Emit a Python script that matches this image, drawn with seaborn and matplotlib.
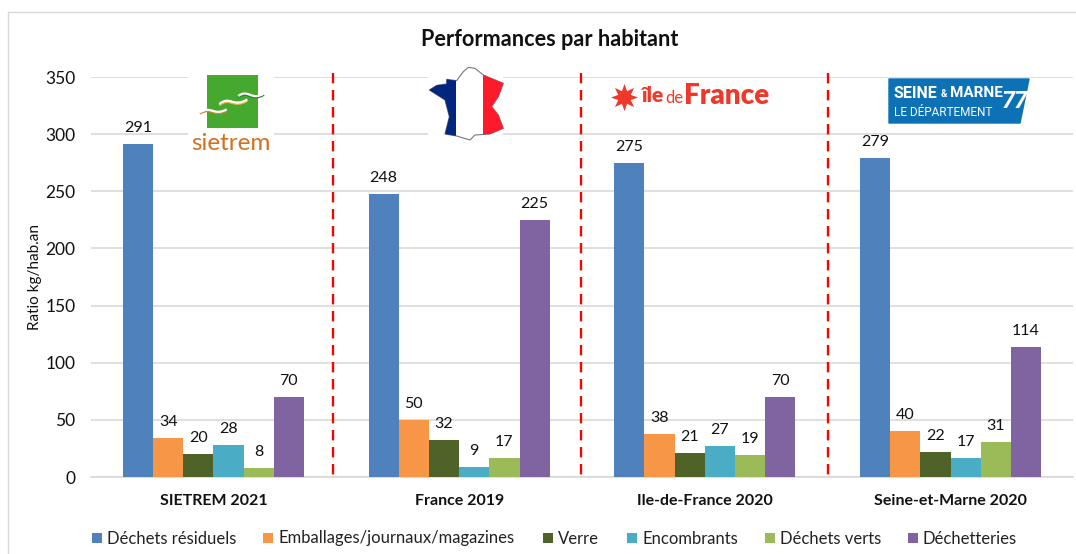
import pandas as pd
import matplotlib
matplotlib.use("Agg")
import matplotlib.pyplot as plt
import seaborn as sns
from matplotlib.patches import Polygon, Rectangle, PathPatch
from matplotlib.path import Path

W, H = 1076, 554

zones = ["SIETREM 2021", "France 2019", "Ile-de-France 2020", "Seine-et-Marne 2020"]
flux = ["Déchets résiduels", "Emballages/journaux/magazines", "Verre",
        "Encombrants", "Déchets verts", "Déchetteries"]
couleurs = ["#4f81bd", "#f79646", "#4f6228", "#4bacc6", "#9bbb59", "#8064a2"]

residuels = [291, 248, 275, 279]
emballages = [34, 50, 38, 40]
verre = [20, 32, 21, 22]
encombrants = [28, 9, 27, 17]
verts = [8, 17, 19, 31]
dechetteries = [70, 225, 70, 114]

series = [residuels, emballages, verre, encombrants, verts, dechetteries]
rows = []
for nom, valeurs in zip(flux, series):
    for zone, v in zip(zones, valeurs):
        rows.append({"zone": zone, "flux": nom, "valeur": v})
df = pd.DataFrame(rows)

sns.set_theme(style="white")
plt.rcParams["font.family"] = ["Lato", "DejaVu Sans"]

fig = plt.figure(figsize=(W / 100, H / 100), dpi=100)
ax = fig.add_axes([90.6 / W, 1 - 477 / H, (1073.4 - 90.6) / W, (477 - 77) / H])

sns.barplot(data=df, x="zone", y="valeur", hue="flux", palette=couleurs,
            width=0.737, gap=0, saturation=1, linewidth=0, ax=ax, legend=False, zorder=3)

for c in ax.containers:
    ax.bar_label(c, padding=6.5, fontsize=11.5, color="#111111")

ax.set_ylim(0, 350)
ax.set_xlim(-0.5, 3.5)
ax.set_yticks(range(0, 351, 50))
ax.yaxis.grid(True, color="#d9d9d9", lw=1.2)
ax.set_axisbelow(True)
sns.despine(ax=ax, left=True, top=True, right=True)
ax.spines["bottom"].set_color("#d9d9d9")
ax.tick_params(axis="y", length=0, labelsize=12.5, pad=11, labelcolor="#111111")
ax.tick_params(axis="x", length=0, pad=12)
for t in ax.get_xticklabels():
    t.set_fontsize(11.5)
    t.set_fontweight("bold")
    t.set_color("#111111")
ax.set_xlabel("")
ax.set_ylabel("Ratio kg/hab.an", fontsize=11, color="#111111", labelpad=2.5)

# calque en pixels pour le cadre, le titre, la legende et les logos
ov = fig.add_axes([0, 0, 1, 1], zorder=5)
ov.set_xlim(0, W)
ov.set_ylim(H, 0)
ov.axis("off")
ov.patch.set_alpha(0)

ov.plot([8, 8, W], [H, 12, 12], color="#d9d9d9", lw=1)
ov.text(549.5, 40, "Performances par habitant", fontsize=15.6, fontweight="bold",
        ha="center", va="center", color="#111111")

# separateurs
for x in [333, 581, 828]:
    ov.plot([x, x], [73, 478], color="#ff0000", lw=1.7, dashes=(4.4, 2.8))

# legende
leg_x = [92, 263, 543, 627, 765, 908]
for x, nom, c in zip(leg_x, flux, couleurs):
    ov.add_patch(Rectangle((x, 533), 9.6, 9.6, color=c, lw=0))
    ov.text(x + 15, 538.5, nom, fontsize=12, va="center", color="#222222")

# fonds blancs
ov.add_patch(Rectangle((188, 60), 86, 96, color="white", lw=0))
ov.add_patch(Rectangle((428, 60), 75, 80, color="white", lw=0))

# logo sietrem
ov.add_patch(Rectangle((207, 75), 51, 53, color="#45a92f", lw=0))
vagues = [[(90, 157), (125, 135), (130, 170), (170, 148)],
          [(148, 132), (180, 105), (190, 145), (232, 118)],
          [(205, 108), (235, 85), (245, 125), (282, 100)]]
codes = [Path.MOVETO, Path.CURVE4, Path.CURVE4, Path.CURVE4]
for pts, sous in zip(vagues, ["#d9822b", "#eeb13c", "#2f7d32"]):
    px = [(x / 3 + 170, y / 3 + 60) for x, y in pts]
    ov.add_patch(PathPatch(Path([(x, y + 1.3) for x, y in px], codes), fc="none", ec=sous, lw=1.5))
    ov.add_patch(PathPatch(Path(px, codes), fc="none", ec="white", lw=1.6))
ov.text(231, 143, "sietrem", fontsize=17.5, color="#d2701e", ha="center", va="center")

# carte de France
contour = [(895, 22), (915, 25), (940, 45), (1000, 70), (985, 110), (965, 140),
           (985, 165), (1000, 205), (960, 222), (915, 225), (900, 240), (860, 228),
           (825, 222), (838, 170), (825, 120), (778, 90), (800, 76), (830, 72), (830, 58),
           (860, 62), (880, 35)]
contour = [(x / 3 + 170, y / 3 + 60) for x, y in contour]
poly = Polygon(contour, closed=True, fc="white", ec="#777777", lw=0.8, zorder=3)
ov.add_patch(poly)
for x0, x1, c in [(428, 456, "#00267f"), (483, 505, "#ff1a2b")]:
    r = Rectangle((x0, 60), x1 - x0, 90, color=c, lw=0, zorder=4)
    ov.add_patch(r)
    r.set_clip_path(poly)

# logo ile de France
rouge = "#f0382a"
ov.scatter([624], [97], marker=(8, 1, 0), s=380, color=rouge, lw=0)
ov.text(641, 96, "île", fontsize=15, fontweight="heavy", color=rouge, va="center")
ov.text(665.5, 98, "de", fontsize=12, color=rouge, va="center")
ov.text(684, 96, "France", fontsize=20, fontweight="heavy", color=rouge, va="center")

# logo Seine-et-Marne
bleu = "#0d72b5"
etroite = ["Liberation Sans Narrow", "Roboto"]
ov.add_patch(Polygon([(889, 79), (1029, 79), (1020, 123), (889, 123)], closed=True,
                     fc=bleu, ec=bleu, lw=1, joinstyle="round"))
ov.text(893, 93, "SEINE", fontsize=11.5, fontweight="bold", color="white", va="center", family=etroite)
ov.text(944, 94, "&", fontsize=7, fontweight="bold", color="white", va="center", ha="center", family=etroite)
ov.text(950, 93, "MARNE", fontsize=11, fontweight="bold", color="white", va="center", family=etroite)
ov.text(894, 112, "LE DÉPARTEMENT", fontsize=8.5, color="white", va="center", family=etroite)
ov.text(1015, 101, "77", fontsize=17, fontweight="bold", style="italic", color="white",
        va="center", ha="center", family=etroite)

fig.savefig("out.png", dpi=100, facecolor="white")
